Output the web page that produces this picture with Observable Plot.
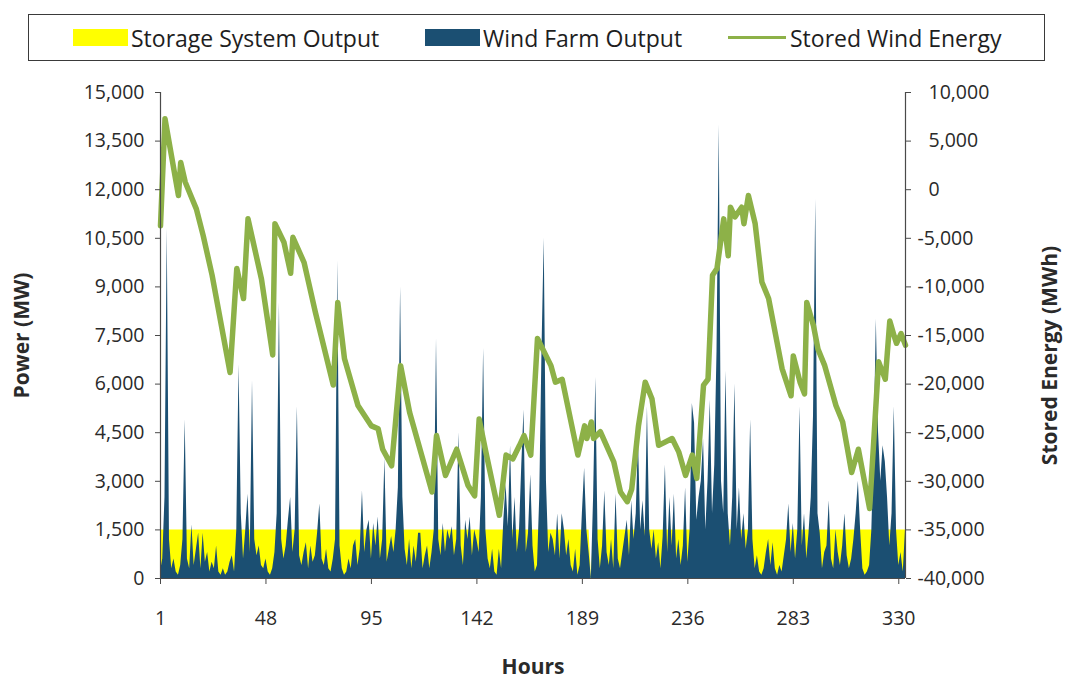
<!DOCTYPE html>
<html>
<head>
<meta charset="utf-8">
<script src="https://cdn.jsdelivr.net/npm/d3@7"></script>
<script src="https://cdn.jsdelivr.net/npm/@observablehq/plot@0.6"></script>
<style>
  html, body { margin: 0; padding: 0; background: #fff; }
  body { width: 1068px; height: 684px; overflow: hidden; font-family: "Open Sans", sans-serif; }
  #header { position: relative; height: 70px; }
  #legend {
    position: absolute; left: 28px; top: 14px; width: 1015px; height: 45px;
    border: 1.5px solid #3a3a3a; box-sizing: content-box;
  }
  .item {
    position: absolute; top: 0; height: 45px; display: flex; align-items: center;
    font-size: 23px; color: #1e1e1e; white-space: nowrap;
  }
  .sw { display: inline-block; width: 55px; height: 17px; margin-right: 3px; }
  .ln { display: inline-block; width: 58px; height: 3px; margin-right: 4px; }
  #chart svg { display: block; }
</style>
</head>
<body>
<div id="header">
  <div id="legend">
    <div class="item" style="left:44px"><span class="sw" style="background:#ffff00"></span>Storage System Output</div>
    <div class="item" style="left:396px"><span class="sw" style="background:#1b4f72"></span>Wind Farm Output</div>
    <div class="item" style="left:699px"><span class="ln" style="background:#8db148"></span>Stored Wind Energy</div>
  </div>
</div>
<div id="chart"></div>
<script>
// Hourly wind farm output (MW), hour 1 .. 333
const windMW = [
  200, 600, 2500, 10800, 1200, 300, 600, 200, 100, 400,
  1200, 4900, 600, 300, 1650, 400, 900, 1400, 300, 1400,
  500, 800, 200, 500, 300, 1000, 200, 100, 300, 100,
  200, 500, 700, 200, 1500, 6600, 2000, 600, 1500, 2600,
  800, 6100, 1200, 700, 1000, 400, 300, 600, 200, 100,
  300, 800, 2000, 8500, 1200, 600, 1000, 1800, 2500, 800,
  1500, 5300, 700, 400, 800, 1100, 300, 1000, 500,
  700, 1400, 2300, 600, 400, 900, 300, 200, 600, 1200,
  9800, 1000, 300, 100, 200, 600, 300, 1000, 1200, 400,
  900, 2700, 800, 1500, 1800, 600, 1700, 1000, 1900, 600,
  1200, 3700, 500, 900, 1300, 800, 1500, 2800, 9000, 2500,
  900, 400, 1200, 300, 1000, 500, 1400, 1400, 300, 700,
  1000, 300, 800, 1500, 7400, 1200, 700, 1700, 800, 1500,
  1200, 1600, 700, 1200, 4500, 1000, 400, 1800, 1200, 1900,
  700, 1500, 1200, 800, 2500, 7100, 1500, 600, 300, 900,
  200, 100, 900, 300, 1800, 2900, 1600, 4100, 1200, 2500,
  800, 1500, 3500, 5200, 800, 1400, 3200, 1000, 200, 400,
  2500, 7000, 10500, 3000, 800, 1400, 1200, 700, 2000,
  600, 2000, 1500, 700, 1200, 400, 200, 900, 100, 400,
  2000, 3400, 1500, 800, 0, 2500, 6200, 1200, 300, 1000,
  2700, 800, 400, 1200, 300, 2600, 600, 300, 800, 1300,
  1800, 700, 2400, 1200, 2000, 4300, 1500, 2400, 1300, 5300,
  1500, 900, 1500, 600, 1100, 300, 1300, 3500, 800, 2500,
  1000, 2600, 600, 1200, 400, 1000, 2800, 500, 1500, 5400,
  4800, 1800, 2500, 3000, 4300, 1500, 3000, 5500, 2000, 3500,
  7000, 14000, 3000, 2000, 6400, 2000, 1000, 2500, 6000, 1500,
  2800, 1200, 2000, 900, 1500, 4900, 1200, 300, 700, 200,
  100, 300, 800, 1200, 400, 1100, 300, 100, 400, 200,
  700, 1200, 2300, 800, 1700, 600, 1500, 5300, 1000, 2000,
  600, 1400, 2500, 5000, 11700, 2000, 1400, 300, 800,
  1000, 2400, 600, 300, 1500, 800, 400, 1000, 2000, 700,
  300, 600, 1200, 2000, 3000, 1500, 300, 100, 200, 400,
  1500, 4000, 8000, 4500, 3000, 4100, 3600, 2500, 1000, 2000,
  5300, 1500, 400, 800, 200, 1500
];

// Storage system output (MW) at the hours where it changes
const storageHours = [1, 192, 193, 194, 333];
const storageMW = [1500, 1500, 0, 1500, 1500];

// Stored wind energy (MWh), turning points of the curve
const storedHours = [
  1, 3, 9, 10, 12, 17, 20, 24, 32, 35, 38, 40, 46, 51, 52, 56, 59, 60, 65, 70,
  78, 80, 83, 89, 95, 98, 100, 104, 108, 112, 122, 124, 128, 133, 138, 141, 143, 146, 152, 155,
  158, 161, 163, 166, 169, 175, 177, 180, 187, 190, 191, 193, 194, 197, 203, 206, 209, 211, 214, 217,
  220, 223, 229, 232, 235, 238, 240, 243, 245, 247, 249, 252, 254, 255, 257, 260, 261, 263, 266, 269,
  272, 278, 282, 283, 286, 288, 289, 292, 294, 297, 302, 305, 309, 312, 317, 319, 321, 324, 326, 328,
  329, 331, 333
];
const storedMWh = [
  -3700, 7300, -600, 2800, 800, -2000, -4700, -8800, -18800, -8100, -11200, -3000, -9200, -17000, -3500, -5400, -8600, -4900, -7500, -12600,
  -20100, -11600, -17400, -22200, -24300, -24600, -26700, -28400, -18100, -22900, -31100, -25300, -29400, -26700, -30400, -31500, -23600, -27000, -33500, -27300,
  -27700, -26300, -25300, -27300, -15300, -18100, -19800, -19500, -27300, -24300, -25600, -23900, -25600, -24900, -28000, -31100, -32100, -30800, -24300, -19800,
  -21500, -26300, -25600, -27000, -29400, -27300, -29700, -20100, -19500, -8800, -8100, -3000, -6800, -1800, -2800, -1800, -3500, -600, -3500, -9500,
  -11200, -18400, -21200, -17100, -19800, -21000, -11600, -14000, -16400, -18100, -22200, -23900, -29100, -26700, -32800, -25300, -17700, -19500, -13500, -15100,
  -15800, -14800, -16000
];

// Axis tick values
const hourTicks = [1, 48, 95, 142, 189, 236, 283, 330];
const powerTicks = [0, 1500, 3000, 4500, 6000, 7500, 9000, 10500, 12000, 13500, 15000];
const energyTicks = [-40000, -35000, -30000, -25000, -20000, -15000, -10000, -5000, 0, 5000, 10000];

const wind = windMW.map((v, i) => ({hour: i + 1, mw: v}));
const storage = storageHours.map((h, i) => ({hour: h, mw: storageMW[i]}));
const stored = storedHours.map((h, i) => ({hour: h, mwh: storedMWh[i]}));

// The secondary axis (-40,000 .. 10,000 MWh) shares the power scale (0 .. 15,000 MW)
const toPower = e => (e + 40000) * 0.3;
const toEnergy = p => Math.round(p / 0.3 - 40000);
const num = v => (v < 0 ? "-" : "") + d3.format(",")(Math.abs(v));

const axisColor = "#4a4a4a";
const textColor = "#2a2a2a";

const chart = Plot.plot({
  width: 1068,
  height: 614,
  marginTop: 22,
  marginBottom: 106,
  marginLeft: 160,
  marginRight: 163,
  style: {fontFamily: "Open Sans", fontSize: "19.5px", color: textColor, background: "#fff"},
  x: {domain: [1, 333]},
  y: {domain: [0, 15000]},
  marks: [
    Plot.areaY(storage, {x: "hour", y: "mw", fill: "#ffff00"}),
    Plot.areaY(wind, {x: "hour", y: "mw", fill: "#1b4f72"}),
    Plot.line(stored, {x: "hour", y: d => toPower(d.mwh), stroke: "#8db148", strokeWidth: 5.5, strokeLinejoin: "round", strokeLinecap: "round"}),
    Plot.ruleY([0], {stroke: axisColor, strokeWidth: 1.2}),
    Plot.ruleX([1], {stroke: axisColor, strokeWidth: 1.2}),
    Plot.ruleX([333], {stroke: axisColor, strokeWidth: 1.2}),
    Plot.axisX({ticks: hourTicks, tickFormat: d => String(d), tickSize: 6, tickPadding: 27, stroke: axisColor, label: null}),
    Plot.axisY({ticks: powerTicks, tickFormat: num, tickSize: 5, tickPadding: 11, stroke: axisColor, label: null}),
    Plot.axisY({anchor: "right", ticks: energyTicks.filter(e => e < 0).map(toPower), tickFormat: p => num(toEnergy(p)), tickSize: 5, tickPadding: 7, stroke: axisColor, label: null}),
    Plot.axisY({anchor: "right", ticks: energyTicks.filter(e => e >= 0).map(toPower), tickFormat: p => num(toEnergy(p)), tickSize: 5, tickPadding: 18, stroke: axisColor, label: null}),
    Plot.text(["Power (MW)"], {frameAnchor: "left", textAnchor: "middle", rotate: -90, dx: -138, fontSize: 21, fontWeight: "bold", fill: textColor}),
    Plot.text(["Stored Energy (MWh)"], {frameAnchor: "right", textAnchor: "middle", rotate: -90, dx: 145, dy: 20, fontSize: 21, fontWeight: "bold", fill: textColor}),
    Plot.text(["Hours"], {frameAnchor: "bottom", dy: 95, fontSize: 21, fontWeight: "bold", fill: textColor})
  ]
});
document.getElementById("chart").appendChild(chart);
</script>
</body>
</html>
